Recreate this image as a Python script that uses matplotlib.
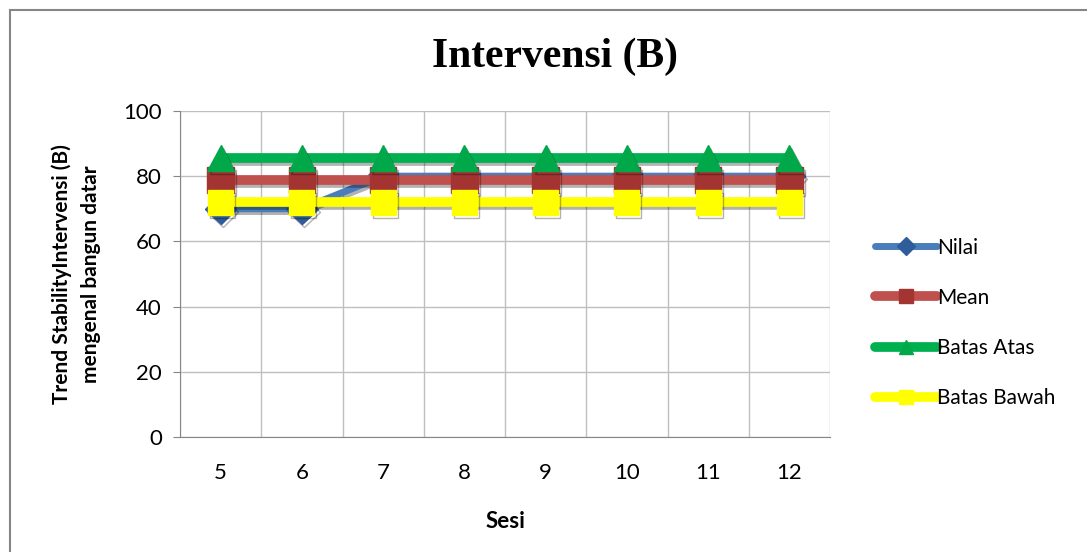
import matplotlib.pyplot as plt
import matplotlib.patheffects as pe
from matplotlib.patches import Rectangle

# data
sesi = ["5", "6", "7", "8", "9", "10", "11", "12"]
nilai = [70, 70, 80, 80, 80, 80, 80, 80]
mean = [78.75] * 8
batas_atas = [85.5] * 8
batas_bawah = [72] * 8

fig = plt.figure(figsize=(10.87, 5.52), dpi=100)
ax = fig.add_axes([0.1656, 0.2083, 0.5980, 0.5907])

x = range(len(sesi))
shadow = [pe.SimpleLineShadow(offset=(1.5, -2), alpha=0.3), pe.Normal()]

series = [
    ("Nilai", nilai, "#4A7EBB", "D", "#2F5C9A", 16, 5),
    ("Mean", mean, "#C0504D", "s", "#A33432", 19, 7),
    ("Batas Atas", batas_atas, "#00B050", "^", "#00A84A", 19, 7),
    ("Batas Bawah", batas_bawah, "#FFFF00", "s", "#FFFF00", 18, 7),
]
for name, vals, col, mk, mcol, ms, lw in series:
    ax.plot(x, vals, color=col, linewidth=lw, marker=mk, markersize=ms,
            markerfacecolor=mcol, markeredgecolor=mcol, label=name,
            solid_capstyle="round", path_effects=shadow)

ax.set_xlim(-0.5, len(sesi) - 0.5)
ax.set_ylim(0, 100)
ax.set_yticks(range(0, 101, 20))
ax.set_xticks(list(x))
ax.set_xticklabels(sesi)

# gridlines at category boundaries and every 20 on y
for b in range(len(sesi) + 1):
    ax.axvline(b - 0.5, color="#BFBFBF", linewidth=1, zorder=0)
ax.yaxis.grid(True, color="#BFBFBF", linewidth=1, zorder=0)
ax.set_axisbelow(True)

for s in ["top", "right"]:
    ax.spines[s].set_visible(False)
for s in ["left", "bottom"]:
    ax.spines[s].set_color("#868686")

ax.tick_params(axis="y", length=5, color="#868686", labelsize=16, pad=8)
ax.tick_params(axis="x", length=0, labelsize=16, pad=19)
for lab in ax.get_xticklabels() + ax.get_yticklabels():
    lab.set_family("Lato")

fig.text(0.511, 0.897, "Intervensi (B)", fontsize=30, fontweight="bold",
         family="Liberation Serif", ha="center", va="center")
ax.set_xlabel("Sesi", fontsize=16, fontweight="bold", family="Lato", labelpad=20)
ax.set_ylabel("Trend StabilityIntervensi (B)\nmengenal bangun datar", fontsize=15,
              fontweight="bold", family="Lato", labelpad=16, linespacing=1.6)

leg = ax.legend(loc="center left", bbox_to_anchor=(1.04, 0.35), frameon=False,
                prop={"family": "Lato", "size": 15}, labelspacing=1.45,
                handlelength=3.0, handletextpad=0.0, markerscale=0.55)
for ln in leg.get_lines():
    ln.set_path_effects([])

# outer chart border
fig.patches.append(Rectangle((10 / 1087, -0.05), 1.1, 1 - 10 / 552 + 0.05,
                             transform=fig.transFigure, fill=False,
                             edgecolor="#868686", linewidth=1.5))

fig.savefig("out.png", dpi=100)
